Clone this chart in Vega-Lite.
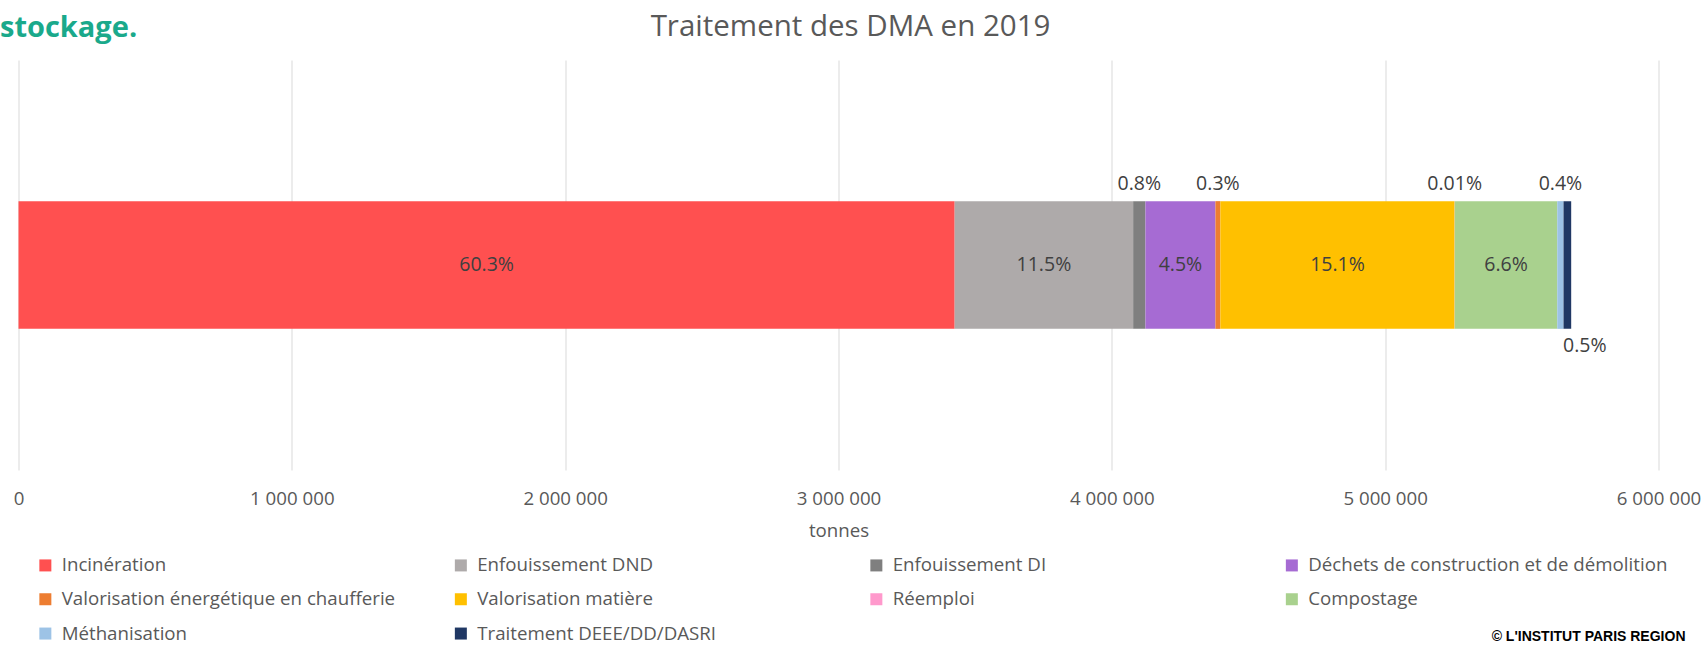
{
  "$schema": "https://vega.github.io/schema/vega-lite/v6.json",
  "width": 1640,
  "height": 410,
  "autosize": {"type": "none"},
  "padding": {"left": 18.5, "top": 60, "right": 47.5, "bottom": 175},
  "background": "white",
  "config": {
    "view": {"stroke": null},
    "font": "Open Sans",
    "locale": {"number": {"decimal": ".", "thousands": " ", "grouping": [3], "currency": ["", ""]}}
  },
  "data": {
    "values": [
      {"annee": "2019", "rang": 1, "traitement": "Incinération", "tonnes": 3425000, "part": "60.3%"},
      {"annee": "2019", "rang": 2, "traitement": "Enfouissement DND", "tonnes": 653000, "part": "11.5%"},
      {"annee": "2019", "rang": 3, "traitement": "Enfouissement DI", "tonnes": 45000, "part": "0.8%"},
      {"annee": "2019", "rang": 4, "traitement": "Déchets de construction et de démolition", "tonnes": 256000, "part": "4.5%"},
      {"annee": "2019", "rang": 5, "traitement": "Valorisation énergétique en chaufferie", "tonnes": 18000, "part": "0.3%"},
      {"annee": "2019", "rang": 6, "traitement": "Valorisation matière", "tonnes": 857000, "part": "15.1%"},
      {"annee": "2019", "rang": 7, "traitement": "Réemploi", "tonnes": 570, "part": "0.01%"},
      {"annee": "2019", "rang": 8, "traitement": "Compostage", "tonnes": 375000, "part": "6.6%"},
      {"annee": "2019", "rang": 9, "traitement": "Méthanisation", "tonnes": 23000, "part": "0.4%"},
      {"annee": "2019", "rang": 10, "traitement": "Traitement DEEE/DD/DASRI", "tonnes": 28000, "part": "0.5%"}
    ]
  },
  "resolve": {"axis": {"x": "independent", "y": "independent"}},
  "layer": [
    {
      "mark": {"type": "bar"},
      "encoding": {
        "x": {
          "field": "tonnes", "type": "quantitative", "stack": "zero",
          "scale": {"domain": [0, 6000000], "nice": false},
          "axis": {
            "orient": "bottom",
            "values": [0, 1000000, 2000000, 3000000, 4000000, 5000000, 6000000],
            "format": ",d",
            "grid": true, "gridColor": "#d9d9d9", "gridWidth": 1,
            "domain": false, "ticks": false, "tickSize": 0,
            "labelPadding": 19, "labelFont": "Open Sans", "labelFontSize": 18.7, "labelColor": "#595959",
            "labelFlush": false, "labelOverlap": false,
            "title": "tonnes", "titleFont": "Open Sans", "titleFontSize": 18.7, "titleFontWeight": "normal",
            "titleColor": "#595959", "titleBaseline": "alphabetic", "titleY": 66
          }
        },
        "y": {
          "field": "annee", "type": "nominal",
          "scale": {"paddingInner": 0.525, "paddingOuter": 0.525},
          "axis": {
            "orient": "left", "labels": false, "ticks": false, "domain": false, "grid": false,
            "title": "stockage.", "titleAngle": 0, "titleAlign": "left", "titleBaseline": "alphabetic",
            "titleX": -19, "titleY": -24, "titleFont": "Open Sans", "titleFontSize": 29,
            "titleFontWeight": "bold", "titleColor": "#1aa98b"
          }
        },
        "color": {
          "field": "traitement", "type": "nominal",
          "scale": {
            "domain": ["Incinération", "Enfouissement DND", "Enfouissement DI", "Déchets de construction et de démolition", "Valorisation énergétique en chaufferie", "Valorisation matière", "Réemploi", "Compostage", "Méthanisation", "Traitement DEEE/DD/DASRI"],
            "range": ["#FF5050", "#AEAAAA", "#7F7F7F", "#A66BD3", "#ED7D31", "#FFC000", "#FF99CC", "#A9D18E", "#9DC3E6", "#203864"]
          },
          "legend": {
            "orient": "none", "legendX": 17.5, "legendY": 495.6, "direction": "horizontal",
            "title": null, "columns": 4, "gridAlign": "all", "columnPadding": 30.5, "rowPadding": 14.3,
            "padding": 0, "symbolType": "square", "symbolSize": 144, "symbolStrokeWidth": 0,
            "labelFont": "Open Sans", "labelFontSize": 18.7, "labelColor": "#595959", "labelOffset": 7, "labelLimit": 600
          }
        },
        "order": {"field": "rang", "type": "quantitative"}
      }
    },
    {
      "mark": {"type": "text", "font": "Open Sans", "fontSize": 19.5, "color": "#404040", "baseline": "middle", "align": "center"},
      "encoding": {
        "x": {
          "field": "tonnes", "type": "quantitative", "stack": "zero", "bandPosition": 0.5,
          "axis": {
            "orient": "top", "labels": false, "ticks": false, "domain": false, "grid": false,
            "title": "Traitement des DMA en 2019", "titleX": 831.5, "titleY": -25, "titleAlign": "center",
            "titleBaseline": "alphabetic", "titleFont": "Open Sans", "titleFontSize": 29.5,
            "titleFontWeight": "normal", "titleColor": "#595959"
          }
        },
        "y": {"field": "annee", "type": "nominal", "axis": null},
        "detail": {"field": "traitement"},
        "order": {"field": "rang", "type": "quantitative"},
        "text": {"condition": {"test": "datum.tonnes >= 100000", "field": "part", "type": "nominal"}, "value": ""}
      }
    },
    {
      "mark": {"type": "text", "font": "Open Sans", "fontSize": 19.5, "color": "#404040", "baseline": "middle", "align": "center", "dy": -81},
      "encoding": {
        "x": {"field": "tonnes", "type": "quantitative", "stack": "zero", "bandPosition": 0.5, "axis": null},
        "y": {"field": "annee", "type": "nominal", "axis": null},
        "detail": {"field": "traitement"},
        "order": {"field": "rang", "type": "quantitative"},
        "text": {"condition": {"test": "datum.tonnes < 100000 && datum.traitement !== 'Traitement DEEE/DD/DASRI'", "field": "part", "type": "nominal"}, "value": ""}
      }
    },
    {
      "mark": {"type": "text", "font": "Open Sans", "fontSize": 19.5, "color": "#404040", "baseline": "middle", "align": "center", "dy": 81, "dx": 17.5},
      "encoding": {
        "x": {"field": "tonnes", "type": "quantitative", "stack": "zero", "bandPosition": 0.5, "axis": null},
        "y": {
          "field": "annee", "type": "nominal",
          "axis": {
            "orient": "right", "labels": false, "ticks": false, "domain": false, "grid": false,
            "title": "© L'INSTITUT PARIS REGION", "titleAngle": 0, "titleAlign": "right", "titleBaseline": "alphabetic",
            "titleX": 26.5, "titleY": 580, "titleFont": "Liberation Sans", "titleFontSize": 14,
            "titleFontWeight": "bold", "titleColor": "#000000"
          }
        },
        "detail": {"field": "traitement"},
        "order": {"field": "rang", "type": "quantitative"},
        "text": {"condition": {"test": "datum.traitement === 'Traitement DEEE/DD/DASRI'", "field": "part", "type": "nominal"}, "value": ""}
      }
    }
  ]
}
